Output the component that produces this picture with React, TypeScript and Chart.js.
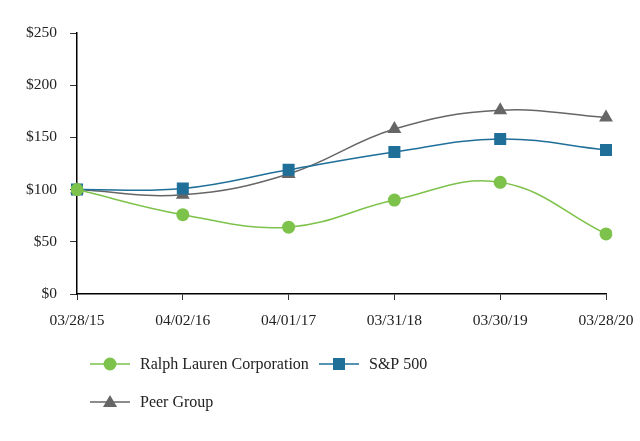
import React, { useEffect, useRef } from "react";
import { Chart, registerables } from "chart.js";

Chart.register(...registerables);

const categories = ["03/28/15", "04/02/16", "04/01/17", "03/31/18", "03/30/19", "03/28/20"];
const ralphLauren = [100, 76, 64, 90, 107, 57.5];
const sp500 = [100, 101, 119, 136, 148.5, 138];
const peerGroup = [100, 95, 115, 158, 176, 169];
const yTicks = [0, 50, 100, 150, 200, 250];

const GREEN = "#7dc24a";
const BLUE = "#1f6f99";
const GRAY = "#666666";
const FONT = "'Liberation Serif', 'Times New Roman', serif";

const legendItems = [
  { label: "Ralph Lauren Corporation", color: GREEN, style: "circle", row: 0, x: 90 },
  { label: "S&P 500", color: BLUE, style: "rect", row: 0, x: 319 },
  { label: "Peer Group", color: GRAY, style: "triangle", row: 1, x: 90 },
];

const legendPlugin = {
  id: "customLegend",
  afterDraw(chart: any) {
    const ctx = chart.ctx;
    const rows = [364, 402];
    ctx.save();
    for (const it of legendItems) {
      const y = rows[it.row];
      ctx.strokeStyle = it.color;
      ctx.lineWidth = 1.5;
      ctx.beginPath();
      ctx.moveTo(it.x, y);
      ctx.lineTo(it.x + 40, y);
      ctx.stroke();
      ctx.fillStyle = it.color;
      const cx = it.x + 20;
      ctx.beginPath();
      if (it.style === "circle") {
        ctx.arc(cx, y, 6.5, 0, Math.PI * 2);
      } else if (it.style === "rect") {
        ctx.rect(cx - 6, y - 6, 12, 12);
      } else {
        ctx.moveTo(cx, y - 7);
        ctx.lineTo(cx + 7, y + 5);
        ctx.lineTo(cx - 7, y + 5);
        ctx.closePath();
      }
      ctx.fill();
      ctx.fillStyle = "#222";
      ctx.font = `16px ${FONT}`;
      ctx.textBaseline = "middle";
      ctx.textAlign = "left";
      ctx.fillText(it.label, it.x + 50, y + 1);
    }
    ctx.restore();
  },
};

export default function App() {
  const ref = useRef<HTMLCanvasElement>(null);
  useEffect(() => {
    if (!ref.current) return;
    const chart = new Chart(ref.current, {
      type: "line",
      data: {
        labels: categories,
        datasets: [
          {
            label: "Ralph Lauren Corporation",
            data: ralphLauren,
            borderColor: GREEN,
            backgroundColor: GREEN,
            borderWidth: 1.5,
            pointStyle: "circle",
            pointRadius: 6.5,
            pointBorderWidth: 0,
            tension: 0.4,
          },
          {
            label: "S&P 500",
            data: sp500,
            borderColor: BLUE,
            backgroundColor: BLUE,
            borderWidth: 1.5,
            pointStyle: "rect",
            pointRadius: 8.5,
            pointBorderWidth: 0,
            tension: 0.4,
          },
          {
            label: "Peer Group",
            data: peerGroup,
            borderColor: GRAY,
            backgroundColor: GRAY,
            borderWidth: 1.5,
            pointStyle: "triangle",
            pointRadius: 8,
            pointBorderWidth: 0,
            tension: 0.4,
          },
        ],
      },
      options: {
        animation: false,
        responsive: true,
        maintainAspectRatio: false,
        layout: { padding: { left: 0, right: 34, top: 33, bottom: 107 } },
        plugins: {
          legend: { display: false },
          tooltip: { enabled: false },
        },
        scales: {
          x: {
            type: "category",
            offset: false,
            grid: {
              display: true,
              drawOnChartArea: false,
              drawTicks: true,
              tickLength: 6,
              color: "#333",
            },
            border: { display: true, color: "#000", width: 1.5 },
            ticks: {
              color: "#222",
              font: { family: FONT, size: 15.5 },
              padding: 12,
              maxRotation: 0,
              autoSkip: false,
            },
            afterFit(scale: any) {
              scale.height = 40;
              scale.paddingLeft = 0;
              scale.paddingRight = 0;
            },
          },
          y: {
            min: 0,
            max: 250,
            afterBuildTicks(scale: any) {
              scale.ticks = yTicks.map((v) => ({ value: v }));
            },
            grid: {
              display: true,
              drawOnChartArea: false,
              drawTicks: true,
              tickLength: 7,
              color: "#333",
            },
            border: { display: true, color: "#000", width: 1.5 },
            ticks: {
              color: "#222",
              font: { family: FONT, size: 15.5 },
              padding: 13,
              callback: (v: any) => "$" + v,
            },
            afterFit(scale: any) {
              scale.width = 77;
              scale.paddingTop = 0;
              scale.paddingBottom = 0;
            },
          },
        },
      },
      plugins: [legendPlugin],
    });
    return () => chart.destroy();
  }, []);
  return (
    <div style={{ position: "fixed", left: 0, top: 0, width: 640, height: 441, background: "#fff" }}>
      <canvas ref={ref} />
    </div>
  );
}
